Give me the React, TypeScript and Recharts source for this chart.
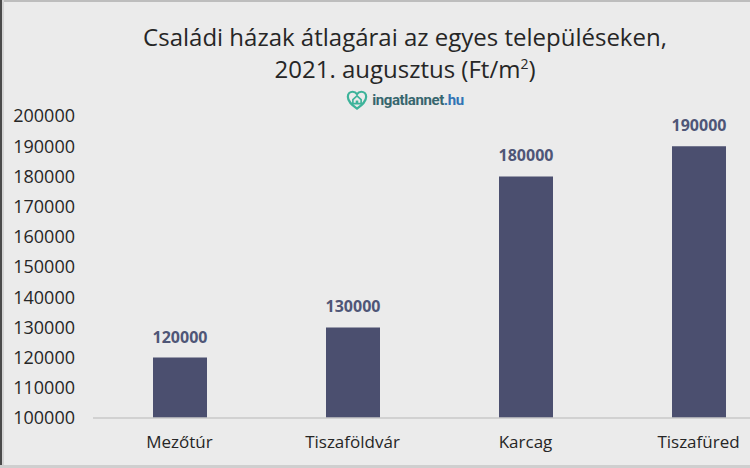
import { Bar, BarChart, LabelList, XAxis, YAxis } from "recharts";

const settlements = ["Mezőtúr", "Tiszaföldvár", "Karcag", "Tiszafüred"];
const prices = [120000, 130000, 180000, 190000];
const yTicks = [100000, 110000, 120000, 130000, 140000, 150000, 160000, 170000, 180000, 190000, 200000];

const titleLine1 = "Családi házak átlagárai az egyes településeken,";
const titleLine2 = "2021. augusztus (Ft/m";

const chartData = settlements.map((name, i) => ({ name, price: prices[i] }));

const font = "'Open Sans', sans-serif";

function Logo() {
  return (
    <div
      style={{
        position: "absolute",
        top: 89,
        left: 0,
        width: 810,
        display: "flex",
        justifyContent: "center",
        alignItems: "center",
        gap: 4
      }}
    >
      <svg width="22" height="22" viewBox="0 0 24 24">
        <path
          d="M12 21.5 C6 17 2 13.5 2 8.5 C2 5.2 4.5 3 7.3 3 C9.3 3 10.9 4 12 5.6 C13.1 4 14.7 3 16.7 3 C19.5 3 22 5.2 22 8.5 C22 13.5 18 17 12 21.5 Z"
          fill="none"
          stroke="#3db39a"
          strokeWidth="2.4"
        />
        <path d="M7.5 11.5 L12 7.5 L16.5 11.5 V16 H7.5 Z" fill="none" stroke="#3db39a" strokeWidth="1.8" />
        <rect x="10.6" y="12.6" width="2.8" height="3.4" fill="#3db39a" />
      </svg>
      <span style={{ fontFamily: "Roboto, sans-serif", fontWeight: 700, fontSize: 15, letterSpacing: -0.4 }}>
        <span style={{ color: "#37666e" }}>ingatlannet</span>
        <span style={{ color: "#3274b5" }}>.hu</span>
      </span>
    </div>
  );
}

export default function App() {
  return (
    <div
      style={{
        position: "absolute",
        top: 0,
        left: 0,
        width: 750,
        height: 468,
        overflow: "hidden",
        background: "#ebebeb",
        fontFamily: font
      }}
    >
      {/* frame edges */}
      <div style={{ position: "absolute", top: 0, left: 0, width: 750, height: 2, background: "#bdbdbd" }} />
      <div style={{ position: "absolute", top: 0, left: 0, width: 2, height: 468, background: "#4a4a4a" }} />
      <div style={{ position: "absolute", top: 0, left: 2, width: 2, height: 468, background: "#d4d4d4" }} />
      <div style={{ position: "absolute", top: 465, left: 0, width: 750, height: 3, background: "#cfcfcf" }} />

      <div
        style={{
          position: "absolute",
          top: 21,
          left: 0,
          width: 810,
          textAlign: "center",
          fontSize: 24,
          lineHeight: "32px",
          color: "#262626"
        }}
      >
        <div>{titleLine1}</div>
        <div>
          {titleLine2}
          <sup style={{ fontSize: 14, verticalAlign: "top", lineHeight: "22px" }}>2</sup>)
        </div>
      </div>
      <Logo />

      <div style={{ position: "absolute", top: 0, left: 0 }}>
        <BarChart width={800} height={468} data={chartData} margin={{ top: 116, right: 15, bottom: 0, left: 0 }}>
          <XAxis
            dataKey="name"
            height={50}
            tickLine={false}
            tickMargin={12}
            axisLine={{ stroke: "#c8c8c8", strokeWidth: 1.5 }}
            tick={{ fill: "#262626", fontSize: 17, fontFamily: font }}
          />
          <YAxis
            width={93}
            domain={[100000, 200000]}
            ticks={yTicks}
            allowDataOverflow
            axisLine={false}
            tickLine={false}
            tickMargin={12}
            tick={{ fill: "#262626", fontSize: 18, fontFamily: font }}
          />
          <Bar dataKey="price" fill="#4b4f6f" barSize={54} isAnimationActive={false}>
            <LabelList
              dataKey="price"
              position="top"
              offset={15}
              fill="#4f5677"
              fontSize={16}
              fontWeight={700}
              fontFamily={font}
            />
          </Bar>
        </BarChart>
      </div>
    </div>
  );
}
